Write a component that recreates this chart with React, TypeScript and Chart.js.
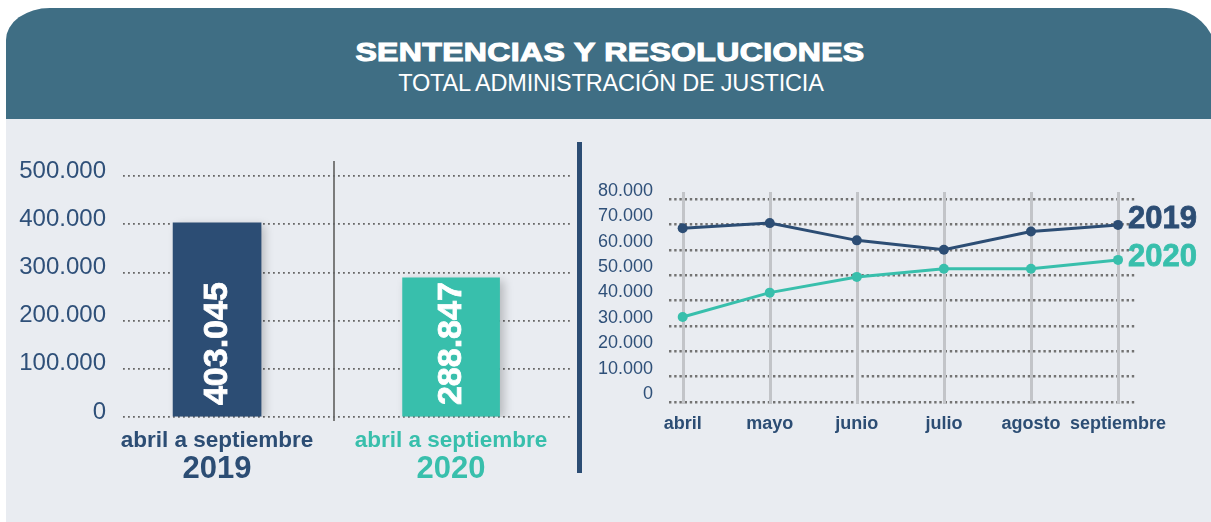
import React, { useEffect, useRef } from "react";
import { Chart, registerables } from "chart.js";
Chart.register(...registerables);

// ---- data ----
const title = "SENTENCIAS Y RESOLUCIONES";
const subtitle = "TOTAL ADMINISTRACIÓN DE JUSTICIA";
const periodLabel = "abril a septiembre";
const years = ["2019", "2020"];
const totals = [403045, 288847];
const months = ["abril", "mayo", "junio", "julio", "agosto", "septiembre"];
const monthly2019 = [68500, 70500, 63700, 60000, 67200, 69800];
const monthly2020 = [33500, 43100, 49300, 52500, 52500, 56000];

const NAVY = "#2c4d74";
const TEAL = "#38bfac";
const TICK_COLOR = "#2f5079";
const FONT = "'Liberation Sans', Arial, sans-serif";
const yearColors = [NAVY, TEAL];

const fmt = (v: number) => String(Math.round(v)).replace(/\B(?=(\d{3})+(?!\d))/g, ".");

export default function App() {
  const leftRef = useRef<HTMLCanvasElement>(null);
  const rightRef = useRef<HTMLCanvasElement>(null);

  useEffect(() => {
    const barDeco = {
      id: "barDeco",
      beforeDatasetsDraw(chart: any) {
        const ctx = chart.ctx;
        ctx.save();
        ctx.shadowColor = "rgba(0,0,0,0.22)";
        ctx.shadowBlur = 9;
        ctx.shadowOffsetX = 4;
        ctx.shadowOffsetY = 3;
      },
      afterDatasetsDraw(chart: any) {
        const ctx = chart.ctx;
        ctx.restore();
        chart.data.datasets.forEach((ds: any, i: number) => {
          const el = chart.getDatasetMeta(i).data[0];
          if (!el) return;
          ctx.save();
          ctx.translate(el.x, el.base - 11);
          ctx.rotate(-Math.PI / 2);
          ctx.fillStyle = "#ffffff";
          ctx.strokeStyle = "#ffffff";
          ctx.lineWidth = 0.8;
          ctx.font = `bold 34px ${FONT}`;
          ctx.textAlign = "left";
          ctx.textBaseline = "middle";
          ctx.fillText(fmt(ds.data[0].y), 0, 1);
          ctx.strokeText(fmt(ds.data[0].y), 0, 1);
          ctx.restore();
        });
        // category labels
        const xs = chart.scales.x;
        const bottom = chart.chartArea.bottom;
        years.forEach((yr, i) => {
          const x = xs.getPixelForValue(i);
          ctx.save();
          ctx.fillStyle = yearColors[i];
          ctx.textAlign = "center";
          ctx.textBaseline = "middle";
          ctx.font = `bold 22.5px ${FONT}`;
          ctx.fillText(periodLabel, x, bottom + 24);
          ctx.font = `bold 31px ${FONT}`;
          ctx.fillText(yr, x, bottom + 52);
          ctx.restore();
        });
      },
    };

    const left = new Chart(leftRef.current!, {
      type: "bar",
      data: {
        datasets: years.map((yr, i) => ({
          label: yr,
          data: [{ x: i, y: totals[i] }],
          backgroundColor: yearColors[i],
          barThickness: i === 0 ? 88 : 97,
          grouped: false,
        })) as any,
      },
      options: {
        animation: false,
        responsive: false,
        maintainAspectRatio: false,
        layout: { padding: { top: 46, bottom: 105, left: 0, right: 7 } },
        plugins: { legend: { display: false }, tooltip: { enabled: false } },
        scales: {
          x: { type: "linear", min: -0.402, max: 1.521, offset: false, display: false },
          y: {
            min: 0,
            max: 500000,
            ticks: {
              stepSize: 100000,
              callback: (v: any) => fmt(Number(v)),
              color: TICK_COLOR,
              font: { size: 24, family: FONT },
              padding: 17,
              labelOffset: -5,
            },
            grid: { color: "#666666", lineWidth: 1.8, drawTicks: false, tickLength: 0 },
            border: { display: false, dash: [1.8, 3.2] },
            afterFit: (s: any) => {
              s.width = 123;
            },
          },
        },
      } as any,
      plugins: [barDeco],
    });

    const lineDeco = {
      id: "lineDeco",
      beforeDatasetsDraw(chart: any) {
        const ctx = chart.ctx;
        const xs = chart.scales.x;
        const { top, bottom } = chart.chartArea;
        ctx.save();
        ctx.strokeStyle = "#c2c4c8";
        ctx.lineWidth = 3;
        months.forEach((_, i) => {
          const x = Math.round(xs.getPixelForValue(i)) + 0.5;
          ctx.beginPath();
          ctx.moveTo(x, top - 7);
          ctx.lineTo(x, bottom + 2);
          ctx.stroke();
        });
        ctx.restore();
      },
      afterDatasetsDraw(chart: any) {
        const ctx = chart.ctx;
        const offsets = [-5, -2];
        chart.data.datasets.forEach((ds: any, i: number) => {
          const pts = chart.getDatasetMeta(i).data;
          const pt = pts[pts.length - 1];
          ctx.save();
          ctx.fillStyle = ds.borderColor;
          ctx.strokeStyle = ds.borderColor;
          ctx.lineWidth = 0.8;
          ctx.font = `bold 31px ${FONT}`;
          ctx.textAlign = "left";
          ctx.textBaseline = "middle";
          ctx.fillText(ds.label, pt.x + 10, pt.y + offsets[i]);
          ctx.strokeText(ds.label, pt.x + 10, pt.y + offsets[i]);
          ctx.restore();
        });
      },
    };

    const series = [monthly2019, monthly2020];
    const right = new Chart(rightRef.current!, {
      type: "line",
      data: {
        datasets: years.map((yr, i) => ({
          label: yr,
          data: series[i].map((v, k) => ({ x: k, y: v })),
          borderColor: yearColors[i],
          backgroundColor: yearColors[i],
          pointBackgroundColor: yearColors[i],
          borderWidth: 3,
          pointRadius: 5,
          pointBorderWidth: 0,
          tension: 0,
        })),
      },
      options: {
        animation: false,
        responsive: false,
        maintainAspectRatio: false,
        layout: { padding: { top: 69, bottom: 80, left: 0, right: 76 } },
        plugins: { legend: { display: false }, tooltip: { enabled: false } },
        scales: {
          x: {
            type: "linear",
            min: -0.157,
            max: 5.195,
            ticks: {
              stepSize: 1,
              includeBounds: false,
              autoSkip: false,
              maxRotation: 0,
              callback: (v: any) => months[Number(v)] ?? "",
              color: NAVY,
              font: { size: 18, weight: "bold", family: FONT },
              padding: 11,
            },
            grid: { display: false, drawTicks: false, tickLength: 0 },
            border: { display: false },
            afterFit: (s: any) => {
              s.height = 40;
            },
          },
          y: {
            min: 0,
            max: 80000,
            ticks: {
              stepSize: 10000,
              callback: (v: any) => fmt(Number(v)),
              color: TICK_COLOR,
              font: { size: 18, family: FONT },
              padding: 16,
              labelOffset: -8,
            },
            grid: { color: "#737373", lineWidth: 2.4, drawTicks: false, tickLength: 0 },
            border: { display: false, dash: [2.4, 2.8] },
            afterFit: (s: any) => {
              s.width = 86;
            },
          },
        },
      } as any,
      plugins: [lineDeco],
    });

    return () => {
      left.destroy();
      right.destroy();
    };
  }, []);

  return (
    <div
      style={{
        position: "fixed",
        left: 0,
        top: 0,
        width: 1211,
        height: 522,
        overflow: "hidden",
        background: "#ffffff",
        fontFamily: FONT,
      }}
    >
      <div
        style={{
          position: "absolute",
          left: 6,
          top: 8,
          width: 1210,
          height: 520,
          background: "#e9ecf1",
          borderRadius: "44px 50px 0 0 / 32px 46px 0 0",
          overflow: "hidden",
        }}
      >
        <div style={{ position: "absolute", left: 0, top: 0, width: "100%", height: 111, background: "#3f6e84" }} />
      </div>
      <div
        style={{
          position: "absolute",
          left: 0,
          width: 1220,
          top: 39,
          textAlign: "center",
          whiteSpace: "nowrap",
        }}
      >
        <span
          style={{
            display: "inline-block",
            color: "#ffffff",
            fontFamily: FONT,
            fontWeight: "bold",
            fontSize: 26,
            lineHeight: "26px",
            transform: "scaleX(1.23)",
            transformOrigin: "center",
            WebkitTextStroke: "1.1px #ffffff",
            letterSpacing: "0.3px",
          }}
        >
          {title}
        </span>
      </div>
      <div
        style={{
          position: "absolute",
          left: 0,
          width: 1222,
          top: 71.8,
          textAlign: "center",
          color: "#ffffff",
          fontFamily: FONT,
          fontSize: 23.5,
          lineHeight: "23.5px",
          letterSpacing: "-0.2px",
          whiteSpace: "nowrap",
        }}
      >
        {subtitle}
      </div>
      {/* separator in left chart */}
      <div style={{ position: "absolute", left: 333, top: 161, width: 2, height: 260, background: "#7b7b7b" }} />
      {/* main divider */}
      <div style={{ position: "absolute", left: 577, top: 142, width: 5, height: 331, background: NAVY }} />
      <canvas
        ref={leftRef}
        width={580}
        height={392}
        style={{ position: "absolute", left: 0, top: 130, width: 580, height: 392 }}
      />
      <canvas
        ref={rightRef}
        width={628}
        height={392}
        style={{ position: "absolute", left: 583, top: 130, width: 628, height: 392 }}
      />
    </div>
  );
}
